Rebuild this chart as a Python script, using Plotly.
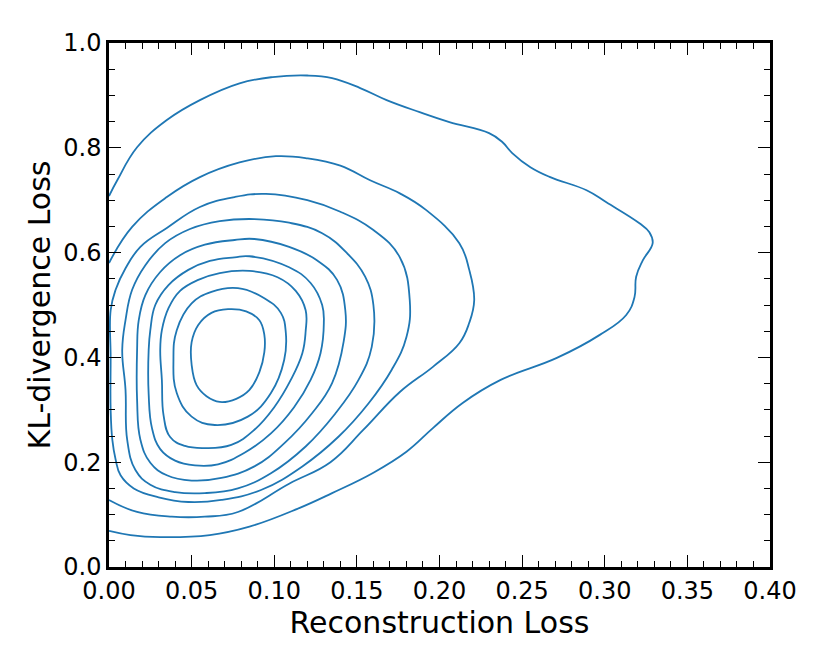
import plotly.graph_objects as go

# contour levels of the KDE, outermost (level_1) to innermost (level_9)
# each level is a list of (reconstruction loss, KL-divergence loss) points
level_1 = [(0.000, 0.708), (0.005, 0.738), (0.017, 0.801), (0.035, 0.853), (0.055, 0.891),
           (0.079, 0.923), (0.099, 0.935), (0.120, 0.938), (0.135, 0.933), (0.152, 0.914),
           (0.168, 0.891), (0.188, 0.868), (0.206, 0.849), (0.230, 0.828), (0.238, 0.811),
           (0.244, 0.790), (0.255, 0.763), (0.267, 0.744), (0.289, 0.719), (0.301, 0.696),
           (0.321, 0.656), (0.327, 0.639), (0.329, 0.618), (0.323, 0.585), (0.319, 0.554),
           (0.318, 0.515), (0.313, 0.481), (0.297, 0.443), (0.271, 0.399), (0.237, 0.357),
           (0.214, 0.313), (0.196, 0.265), (0.180, 0.220), (0.160, 0.180), (0.135, 0.141),
           (0.114, 0.111), (0.085, 0.077), (0.061, 0.061), (0.031, 0.057), (0.013, 0.061),
           (0.000, 0.069)]
level_2 = [(0.000, 0.580), (0.014, 0.649), (0.035, 0.706), (0.055, 0.744), (0.079, 0.772),
           (0.101, 0.784), (0.120, 0.780), (0.140, 0.766), (0.158, 0.738), (0.176, 0.713),
           (0.192, 0.681), (0.212, 0.618), (0.218, 0.567), (0.221, 0.509), (0.218, 0.466),
           (0.212, 0.427), (0.196, 0.382), (0.176, 0.334), (0.154, 0.262), (0.134, 0.200),
           (0.109, 0.159), (0.078, 0.105), (0.058, 0.096), (0.038, 0.096), (0.017, 0.105),
           (0.000, 0.128)]
level_3 = [(0.001, 0.490), (0.004, 0.529), (0.010, 0.570), (0.019, 0.611), (0.035, 0.647),
           (0.055, 0.687), (0.076, 0.706), (0.095, 0.712), (0.120, 0.700), (0.140, 0.678),
           (0.160, 0.643), (0.176, 0.591), (0.182, 0.509), (0.180, 0.439), (0.171, 0.376),
           (0.157, 0.312), (0.139, 0.249), (0.117, 0.192), (0.092, 0.147), (0.068, 0.128),
           (0.048, 0.124), (0.030, 0.133), (0.015, 0.150), (0.007, 0.175), (0.004, 0.205),
           (0.002, 0.243), (0.001, 0.300), (0.001, 0.400), (0.001, 0.490)]
level_4 = [(0.088, 0.664), (0.109, 0.657), (0.129, 0.637), (0.144, 0.599), (0.155, 0.554),
           (0.160, 0.500), (0.159, 0.420), (0.151, 0.357), (0.137, 0.293), (0.119, 0.230),
           (0.098, 0.179), (0.078, 0.150), (0.058, 0.141), (0.040, 0.143), (0.025, 0.157),
           (0.016, 0.185), (0.011, 0.243), (0.010, 0.338), (0.008, 0.414), (0.010, 0.471),
           (0.014, 0.529), (0.022, 0.576), (0.034, 0.618), (0.049, 0.645), (0.067, 0.660),
           (0.088, 0.664)]
level_5 = [(0.088, 0.626), (0.109, 0.611), (0.126, 0.585), (0.138, 0.548), (0.143, 0.490),
           (0.142, 0.430), (0.135, 0.351), (0.123, 0.294), (0.106, 0.236), (0.088, 0.192),
           (0.068, 0.170), (0.050, 0.165), (0.035, 0.175), (0.025, 0.199), (0.019, 0.243),
           (0.017, 0.319), (0.017, 0.414), (0.018, 0.471), (0.022, 0.519), (0.031, 0.563),
           (0.043, 0.595), (0.058, 0.615), (0.076, 0.624), (0.088, 0.626)]
level_6 = [(0.085, 0.593), (0.109, 0.572), (0.122, 0.542), (0.129, 0.500), (0.130, 0.465),
           (0.128, 0.408), (0.122, 0.357), (0.112, 0.305), (0.098, 0.255), (0.082, 0.218),
           (0.066, 0.196), (0.052, 0.194), (0.040, 0.203), (0.031, 0.225), (0.026, 0.265),
           (0.024, 0.330), (0.024, 0.414), (0.025, 0.452), (0.028, 0.500), (0.036, 0.538),
           (0.048, 0.567), (0.061, 0.584), (0.076, 0.591), (0.085, 0.593)]
level_7 = [(0.085, 0.565), (0.102, 0.553), (0.113, 0.527), (0.119, 0.490), (0.119, 0.450),
           (0.117, 0.408), (0.110, 0.357), (0.100, 0.305), (0.088, 0.262), (0.074, 0.233),
           (0.058, 0.227), (0.046, 0.231), (0.037, 0.248), (0.033, 0.290), (0.032, 0.357),
           (0.031, 0.414), (0.032, 0.452), (0.036, 0.494), (0.043, 0.527), (0.054, 0.548),
           (0.067, 0.561), (0.085, 0.565)]
level_8 = [(0.078, 0.532), (0.094, 0.513), (0.104, 0.485), (0.107, 0.447), (0.106, 0.395),
           (0.098, 0.332), (0.084, 0.287), (0.064, 0.271), (0.050, 0.287), (0.041, 0.332),
           (0.039, 0.395), (0.041, 0.452), (0.050, 0.503), (0.062, 0.525), (0.078, 0.532)]
level_9 = [(0.072, 0.492), (0.083, 0.488), (0.091, 0.471), (0.094, 0.443), (0.094, 0.410),
           (0.091, 0.372), (0.085, 0.338), (0.077, 0.321), (0.067, 0.315), (0.059, 0.326),
           (0.053, 0.347), (0.050, 0.386), (0.050, 0.429), (0.054, 0.462), (0.062, 0.485),
           (0.072, 0.492)]

levels = [level_1, level_2, level_3, level_4, level_5, level_6, level_7, level_8, level_9]

fig = go.Figure()
for lvl in levels:
    fig.add_trace(go.Scatter(
        x=[p[0] for p in lvl], y=[p[1] for p in lvl],
        mode="lines", line=dict(color="#1f77b4", width=1.8, shape="spline", smoothing=1.2),
        showlegend=False, hoverinfo="skip"))

axis_style = dict(
    showline=True, linecolor="black", linewidth=2.5, mirror="allticks",
    ticks="inside", ticklen=12, tickwidth=1.2, tickcolor="black",
    showgrid=False, zeroline=False,
    tickfont=dict(family="DejaVu Sans", size=24, color="black"),
)

fig.update_xaxes(range=[0, 0.4], dtick=0.05, tickformat=".2f",
                 minor=dict(ticks="inside", ticklen=6, tickwidth=1, tickcolor="black", dtick=0.01),
                 title=dict(text="Reconstruction Loss", standoff=2,
                            font=dict(family="DejaVu Sans", size=30, color="black")),
                 **axis_style)
fig.update_yaxes(range=[0, 1.0], dtick=0.2, tickformat=".1f",
                 minor=dict(ticks="inside", ticklen=6, tickwidth=1, tickcolor="black", dtick=0.05),
                 title=dict(text="KL-divergence Loss", standoff=4,
                            font=dict(family="DejaVu Sans", size=30, color="black")),
                 **axis_style)

# the page body has an 8px margin, so the figure is a bit smaller than the window
fig.update_layout(width=822, height=656, margin=dict(l=101, r=60, t=35, b=97),
                  paper_bgcolor="white", plot_bgcolor="white")

fig.write_html("out.html")
